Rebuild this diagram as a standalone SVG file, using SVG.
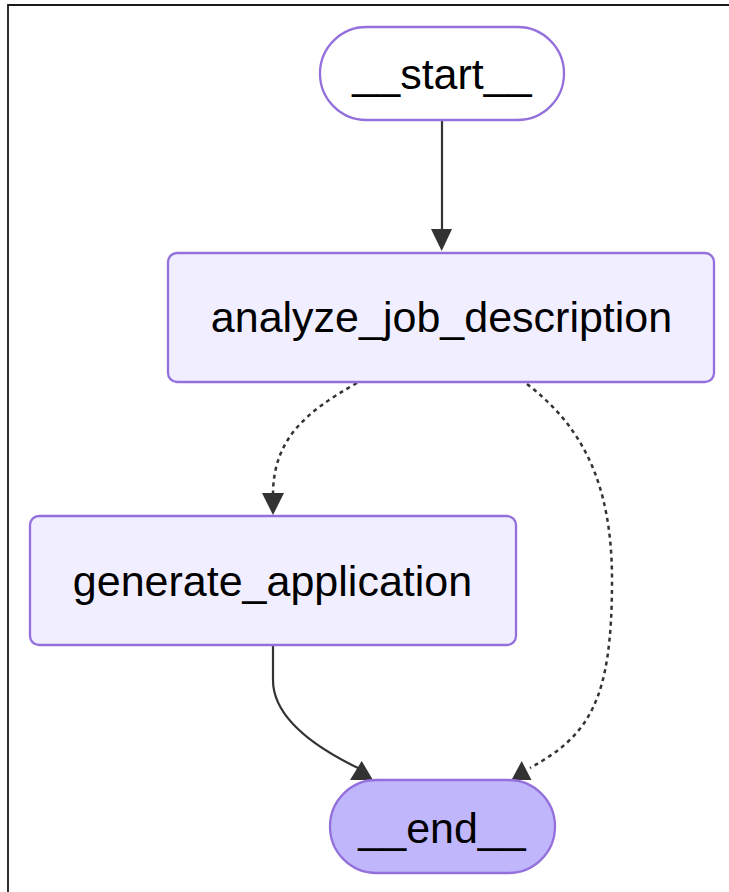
<svg xmlns="http://www.w3.org/2000/svg" width="729" height="892" viewBox="0 0 729 892">
<style>
.node rect{fill:#f1efff;stroke:#9370db;stroke-width:2.3}
.node text{font-family:"Liberation Sans",Arial,sans-serif;font-size:43px;fill:#000;text-anchor:middle}
.edge{fill:none;stroke:#333;stroke-width:2.2}
.dashed{stroke-dasharray:4 4;stroke-width:2.5}
.arrowhead{fill:#333;stroke:none}
</style>
<rect x="0" y="0" width="729" height="892" fill="#fff"/>
<path d="M8,892 L8,5 L729,5" fill="none" stroke="#1a1a1a" stroke-width="1.8"/>
<g id="connectors">
<path class="edge" d="M442,120 L442,232"/>
<polygon class="arrowhead" points="431,229 452,229 441.7,251"/>
<path class="edge dashed" d="M357,383 C305,412 273,440 273,495"/>
<polygon class="arrowhead" points="262,493 284,493 273,515"/>
<path class="edge dashed" d="M527,384 C580,425 612,480 612,580 C612,700 590,735 530,768"/>
<polygon class="arrowhead" points="511.5,780 531.5,780 521.7,761"/>
<path class="edge" d="M273,645 L273,680 C273,715 310,745 360,769"/>
<polygon class="arrowhead" points="350,780 373,780 361.7,761"/>
</g>
<g id="start" class="node">
<rect x="320" y="27" width="244" height="93" rx="46.5" ry="46.5" style="fill:#fff"/>
<text x="442" y="89">__start__</text>
</g>
<g id="analyze_job_description" class="node">
<rect x="168" y="253" width="546" height="129" rx="9" ry="9"/>
<text x="441.5" y="332">analyze_job_description</text>
</g>
<g id="generate_application" class="node">
<rect x="30" y="516" width="486" height="129" rx="9" ry="9"/>
<text x="272.5" y="596">generate_application</text>
</g>
<g id="end" class="node">
<rect x="330" y="780" width="225" height="93" rx="46.5" ry="46.5" style="fill:#bfb6fc"/>
<text x="442" y="843">__end__</text>
</g>
</svg>
